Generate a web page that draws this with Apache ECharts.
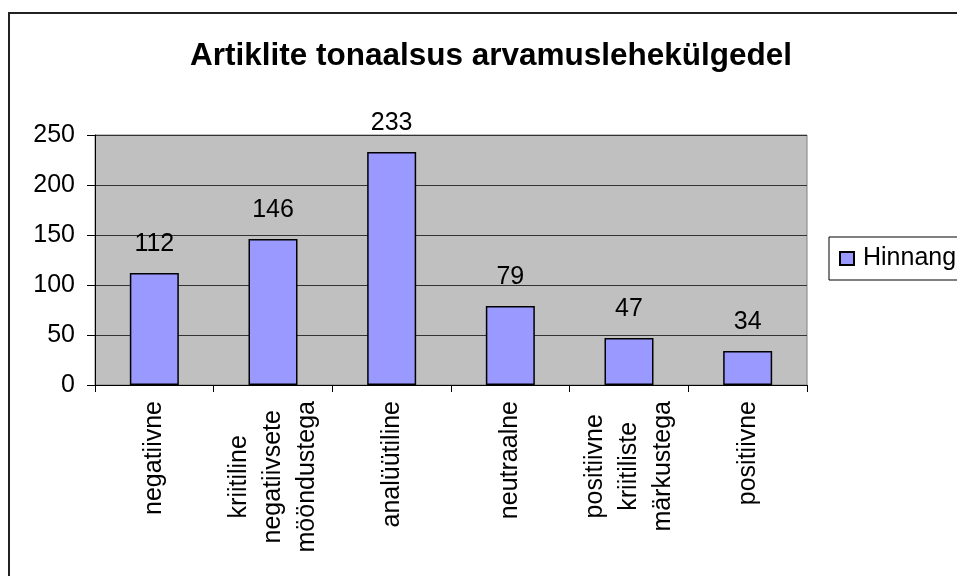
<!DOCTYPE html>
<html>
<head>
<meta charset="utf-8">
<script src="https://cdn.jsdelivr.net/npm/echarts@6/dist/echarts.min.js"></script>
<style>
  html, body { margin: 0; padding: 0; background: #fff; }
  #chart { width: 957px; height: 576px; }
</style>
</head>
<body>
<div id="chart"></div>
<script>
// andmed
const categories = [
  "negatiivne",
  "kriitiline\nnegatiivsete\nmööndustega",
  "analüütiline",
  "neutraalne",
  "positiivne\nkriitiliste\nmärkustega",
  "positiivne",
];
const hinnang = [112, 146, 233, 79, 47, 34];
const yTicks = { min: 0, max: 250, interval: 50 };

let chartDom = document.getElementById("chart");
let myChart = echarts.init(chartDom);
const font = "Liberation Sans, Arial, sans-serif";

let option = {
  animation: false,
  title: {
    text: "Artiklite tonaalsus arvamuslehekülgedel",
    left: 486,
    textAlign: "center",
    top: 35,
    textStyle: { fontFamily: font, fontSize: 31.5, fontWeight: "bold", color: "#000" },
  },
  legend: {
    data: ["Hinnang"],
    left: 829,
    top: 237,
    orient: "vertical",
    padding: [9, 10, 9, 10],
    borderColor: "#000",
    borderWidth: 1,
    itemWidth: 14,
    itemHeight: 13,
    icon: "rect",
    textStyle: { fontFamily: font, fontSize: 25, color: "#000", padding: [0, 0, 0, 4] },
  },
  grid: {
    left: 95,
    right: 150,
    top: 135,
    bottom: 191,
    show: true,
    backgroundColor: "#C0C0C0",
    borderColor: "#808080",
    borderWidth: 1,
  },
  xAxis: {
    type: "category",
    data: categories,
    axisLine: { lineStyle: { color: "#000", width: 1 } },
    axisTick: { show: true, length: 7, lineStyle: { color: "#000" } },
    axisLabel: {
      rotate: 90,
      margin: 16,
      interval: 0,
      // iga rida keskele
      formatter: (v) => v.split("\n").map((s) => "{c|" + s + "}").join("\n"),
      rich: {
        c: { align: "center", fontFamily: font, fontSize: 25, lineHeight: 34, color: "#000" },
      },
    },
  },
  yAxis: {
    type: "value",
    min: yTicks.min,
    max: yTicks.max,
    interval: yTicks.interval,
    axisLine: { show: true, lineStyle: { color: "#000", width: 1 } },
    axisTick: { show: true, length: 8, lineStyle: { color: "#000" } },
    axisLabel: { margin: 20, fontFamily: font, fontSize: 25, color: "#000" },
    splitLine: { lineStyle: { color: "#333", width: 1 } },
  },
  series: [
    {
      type: "bar",
      name: "Hinnang",
      data: hinnang,
      barWidth: 49,
      itemStyle: { color: "#9999FF", borderColor: "#000", borderWidth: 1.5 },
      label: {
        show: true,
        position: "top",
        distance: 16,
        fontFamily: font,
        fontSize: 25,
        color: "#000",
      },
    },
  ],
  graphic: [
    {
      // välimine raam
      type: "rect",
      shape: { x: 9, y: 13, width: 2000, height: 2000 },
      style: { fill: null, stroke: "#222", lineWidth: 2 },
      silent: true,
    },
  ],
};

option && myChart.setOption(option);
</script>
</body>
</html>
